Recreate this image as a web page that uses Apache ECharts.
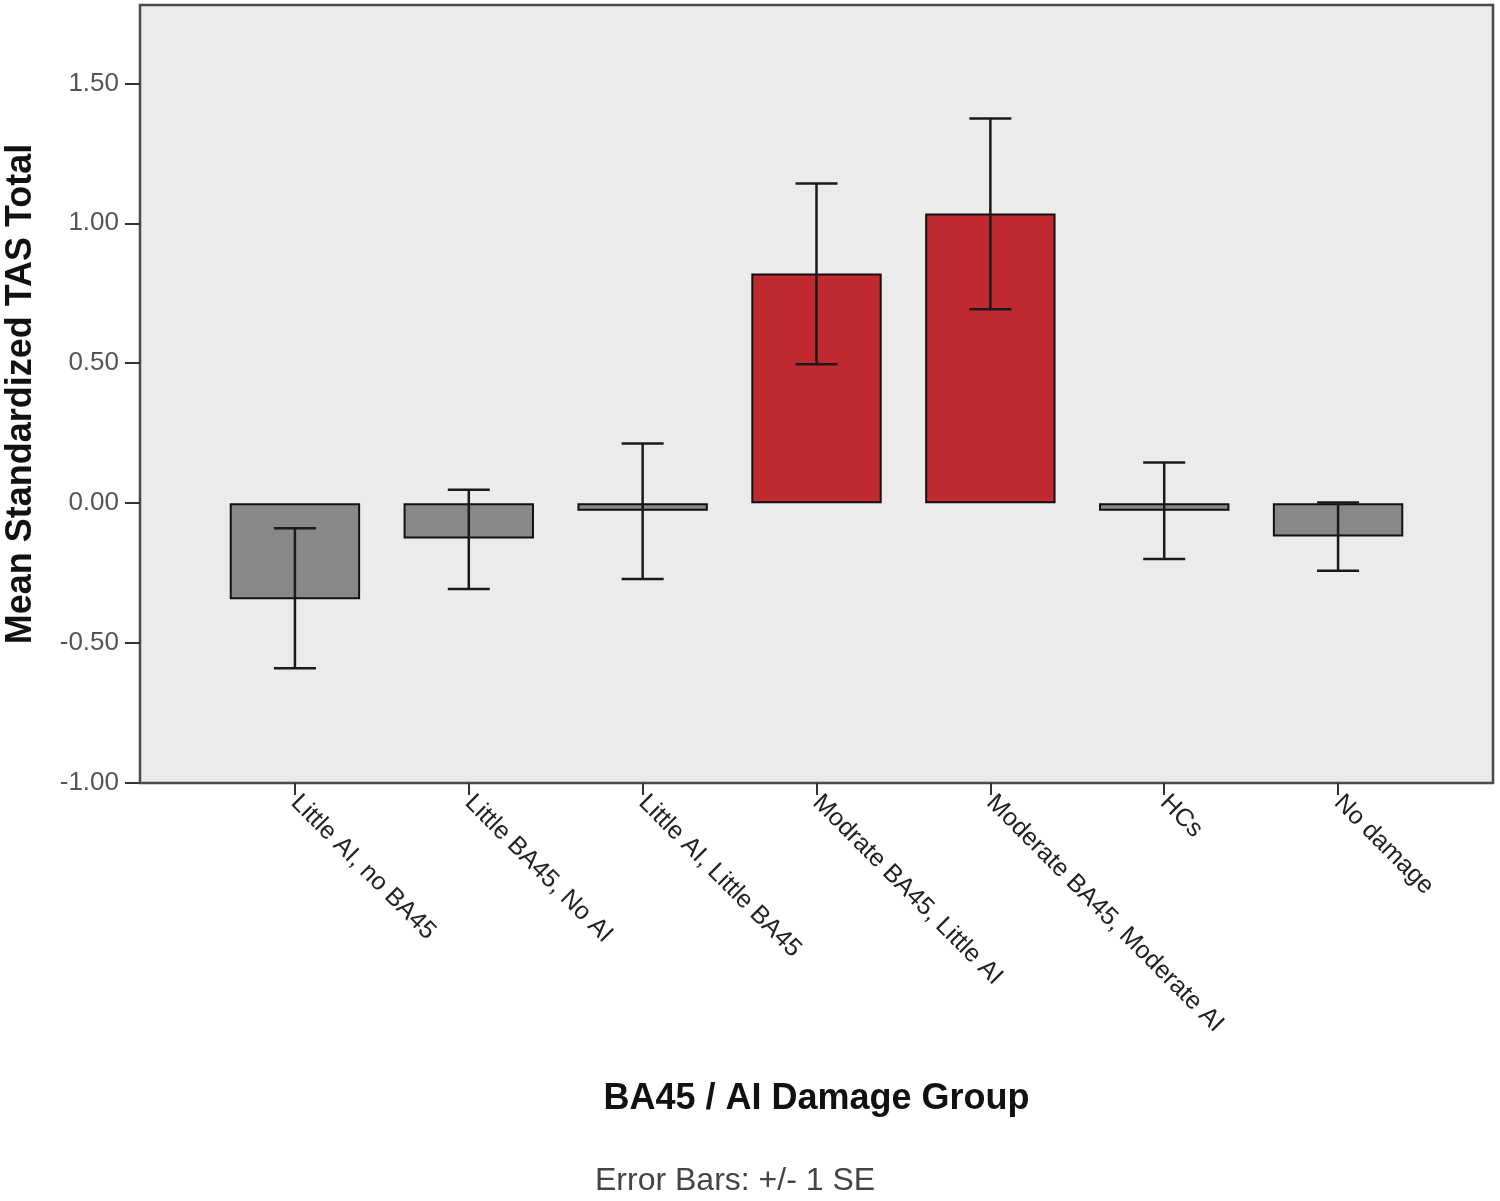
<!DOCTYPE html>
<html><head><meta charset="utf-8">
<script src="https://cdn.jsdelivr.net/npm/echarts@6/dist/echarts.min.js"></script>
<style>html,body{margin:0;padding:0;background:#fff}#c{width:1500px;height:1201px}</style>
</head><body><div id="c"></div>
<script>
const categories = ["Little AI, no BA45","Little BA45, No AI","Little AI, Little BA45","Modrate BA45, Little AI","Moderate BA45, Moderate AI","HCs","No damage"];
const means = [-0.343, -0.126, -0.027, 0.821, 1.035, -0.027, -0.119];
const seLow = [-0.590, -0.307, -0.271, 0.496, 0.693, -0.200, -0.242];
const seHigh = [-0.090, 0.048, 0.213, 1.142, 1.374, 0.145, 0.002];
const highlighted = [false, false, false, true, true, false, false];

const barData = means.map((v,i)=>({value:v,itemStyle:{color: highlighted[i] ? '#c0292f' : '#888888'}}));
const errData = categories.map((c,i)=>[i, seLow[i], seHigh[i]]);

const FONT = 'Liberation Sans, Arial, sans-serif';
const chart = echarts.init(document.getElementById('c'));
chart.setOption({
  animation:false,
  backgroundColor:'#ffffff',
  grid:[
    {left:208, right:75, top:5, bottom:418, show:false, containLabel:false, outerBoundsMode:'none'},
    {left:140, right:7, top:5, bottom:418, show:true, backgroundColor:'#ebebeb', borderColor:'#4a4a4a', borderWidth:2.5, z:0, containLabel:false, outerBoundsMode:'none'}
  ],
  xAxis:[
    {type:'category', data:categories, gridIndex:0, boundaryGap:true,
     axisLine:{show:false, onZero:false},
     axisTick:{show:true, alignWithLabel:true, length:12, lineStyle:{color:'#333', width:2}},
     axisLabel:{rotate:-45, margin:16, fontSize:25, color:'#222', fontFamily:FONT, interval:0},
     name:'BA45 / AI Damage Group', nameLocation:'middle', nameGap:298,
     nameTextStyle:{fontSize:36, fontWeight:'bold', color:'#111', fontFamily:FONT}},
    {type:'value', gridIndex:1, show:false}
  ],
  yAxis:[
    {type:'value', gridIndex:0, min:-1, max:1.78, interval:0.5, offset:68,
     axisLine:{show:false},
     axisTick:{show:true, length:15, lineStyle:{color:'#333', width:2}},
     splitLine:{show:false},
     axisLabel:{margin:21, fontSize:26, color:'#555', fontFamily:FONT, showMaxLabel:false,
       formatter:v=>v.toFixed(2)},
     name:'Mean Standardized TAS Total', nameLocation:'middle', nameGap:101,
     nameTextStyle:{fontSize:36, fontWeight:'bold', color:'#111', fontFamily:FONT}},
    {type:'value', gridIndex:1, show:false}
  ],
  series:[
    {type:'bar', xAxisIndex:0, yAxisIndex:0, data:barData, barWidth:'75%', z:3,
     itemStyle:{borderColor:'#111', borderWidth:2}},
    {type:'custom', xAxisIndex:0, yAxisIndex:0, data:errData, z:5,
     renderItem:(params, api)=>{
       const x = api.value(0);
       const lo = api.coord([x, api.value(1)]);
       const hi = api.coord([x, api.value(2)]);
       const hw = 21;
       const st = {stroke:'#1a1a1a', lineWidth:2.5};
       return {type:'group', children:[
         {type:'line', shape:{x1:lo[0], y1:lo[1], x2:hi[0], y2:hi[1]}, style:st},
         {type:'line', shape:{x1:lo[0]-hw, y1:lo[1], x2:lo[0]+hw, y2:lo[1]}, style:st},
         {type:'line', shape:{x1:hi[0]-hw, y1:hi[1], x2:hi[0]+hw, y2:hi[1]}, style:st}
       ]};
     }}
  ],
  graphic:[
    {type:'text', left:595, top:1165, style:{text:'Error Bars: +/- 1 SE', fontSize:32, fill:'#444', fontFamily:FONT}}
  ]
});
</script></body></html>
